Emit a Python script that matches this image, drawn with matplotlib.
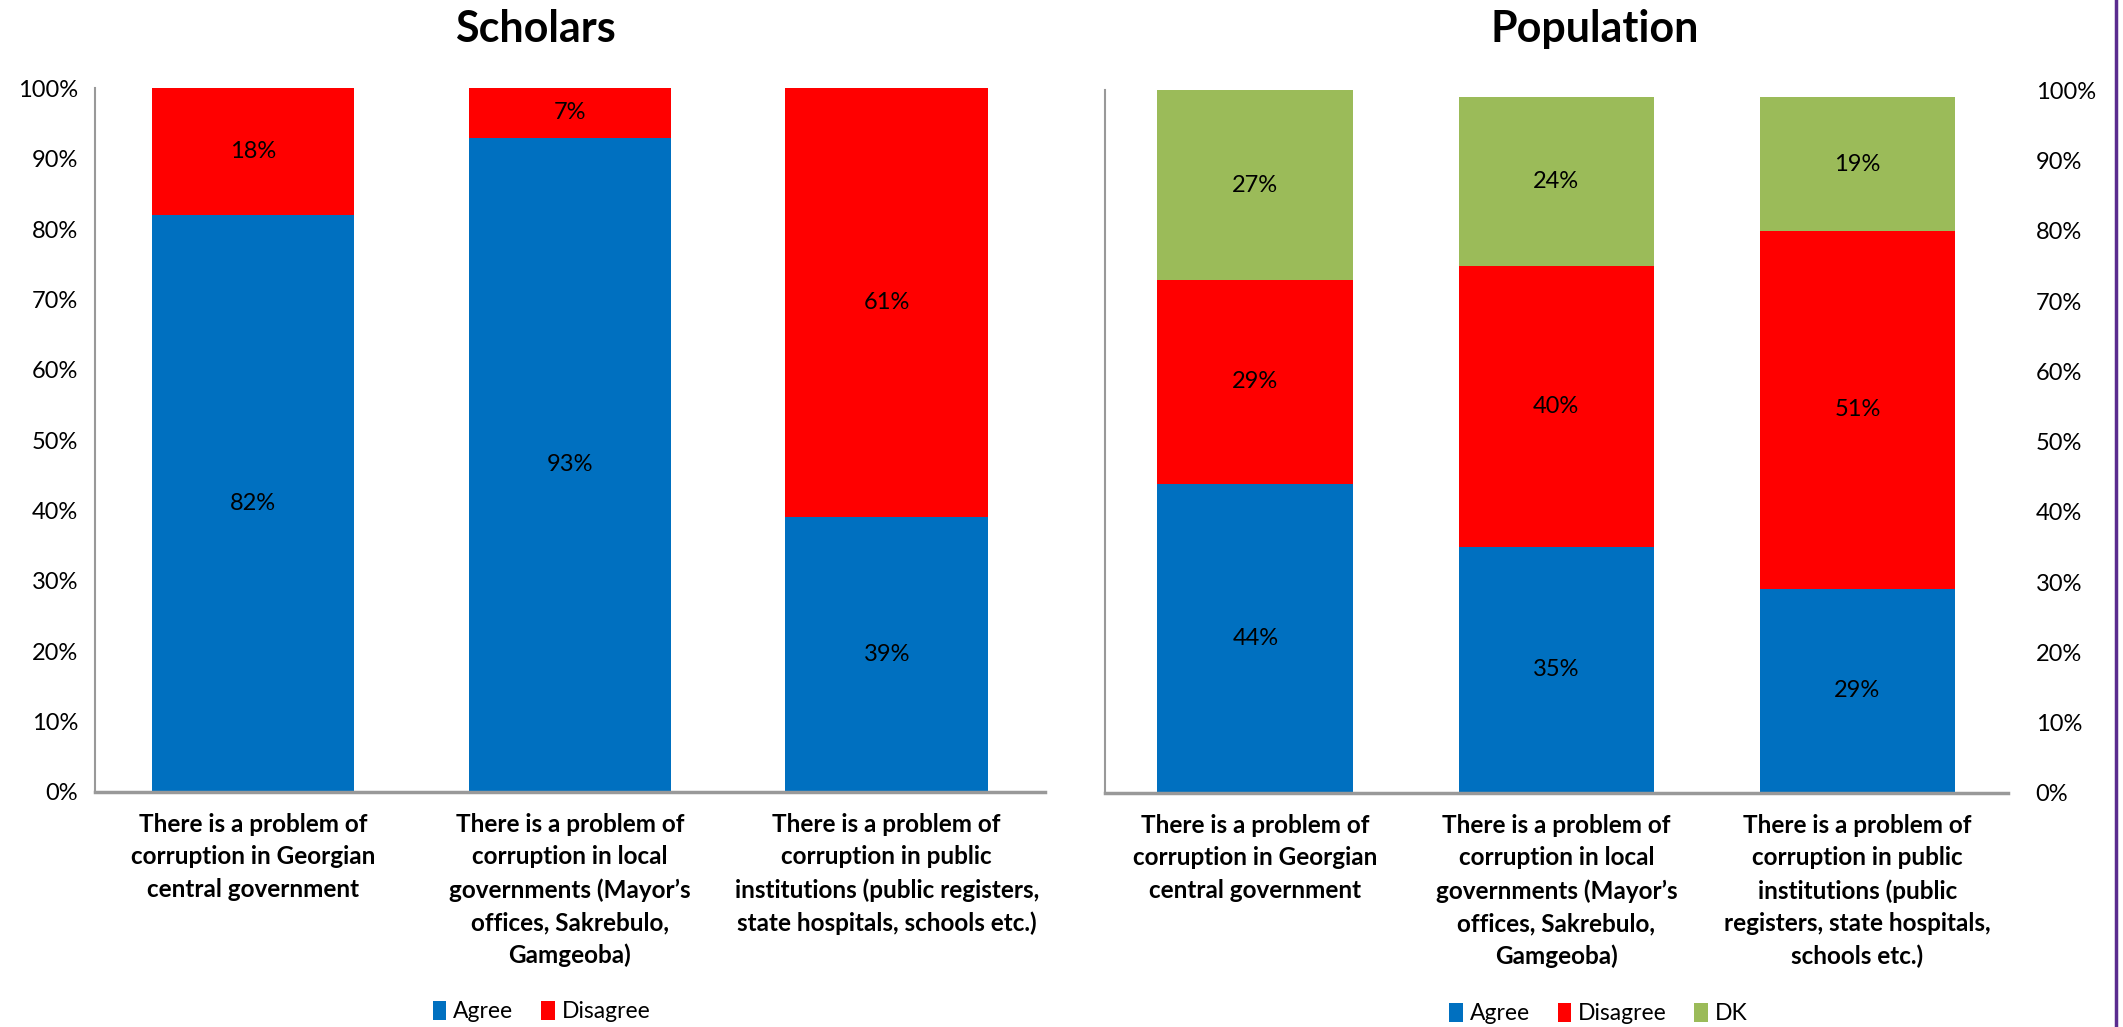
#!/usr/bin/env python

'''
Corruption perception: scholars vs population,
two stacked 100% bar charts side by side
'''

import matplotlib
matplotlib.use('Agg')
import matplotlib.pyplot as plt
import numpy as np
from matplotlib.lines import Line2D

plt.rcParams['font.family'] = ['Lato', 'DejaVu Sans']

BLUE = '#0070C0'
RED = '#FF0000'
GREEN = '#9BBB59'

scholar_cats = [
    'There is a problem of\ncorruption in Georgian\ncentral government',
    'There is a problem of\ncorruption in local\ngovernments (Mayor\u2019s\noffices, Sakrebulo,\nGamgeoba)',
    'There is a problem of\ncorruption in public\ninstitutions (public registers,\nstate hospitals, schools etc.)',
]
pop_cats = [
    'There is a problem of\ncorruption in Georgian\ncentral government',
    'There is a problem of\ncorruption in local\ngovernments (Mayor\u2019s\noffices, Sakrebulo,\nGamgeoba)',
    'There is a problem of\ncorruption in public\ninstitutions (public\nregisters, state hospitals,\nschools etc.)',
]

scholar_agree = [82, 93, 39]
scholar_disagree = [18, 7, 61]

pop_agree = [44, 35, 29]
pop_disagree = [29, 40, 51]
pop_dk = [27, 24, 19]

yticks = np.arange(0, 101, 10)


def stacked(ax, cats, series, colors, names, width):
    x = np.arange(len(cats))
    bottom = np.zeros(len(cats))
    for vals, col, name in zip(series, colors, names):
        vals = np.array(vals, dtype=float)
        bars = ax.bar(x, vals, width, bottom=bottom, color=col, label=name)
        for b, v, bt in zip(bars, vals, bottom):
            ax.text(b.get_x() + b.get_width() / 2, bt + v / 2, '%d%%' % v,
                    ha='center', va='center', fontsize=17, color='black')
        bottom += vals
    ax.set_xlim(-0.5, len(cats) - 0.5)
    ax.set_ylim(0, 100)
    ax.set_yticks(yticks)
    ax.set_yticklabels(['%d%%' % t for t in yticks], fontsize=17)
    ax.set_xticks(x)
    ax.set_xticklabels(cats, fontsize=17.5, fontweight='bold',
                       linespacing=1.5, va='top')
    ax.tick_params(axis='x', length=0, pad=15)
    ax.tick_params(axis='y', length=0, pad=12)
    for s in ['top', 'right']:
        ax.spines[s].set_visible(False)
    ax.spines['left'].set_color('#999999')
    ax.spines['bottom'].set_color('#999999')
    ax.spines['left'].set_linewidth(1.5)
    ax.spines['bottom'].set_linewidth(2.5)


fig = plt.figure(figsize=(21.23, 10.27), dpi=100)

ax1 = fig.add_axes([0.0446, 0.229, 0.4477, 0.685])
stacked(ax1, scholar_cats, [scholar_agree, scholar_disagree],
        [BLUE, RED], ['Agree', 'Disagree'], 0.64)
fig.text(0.252, 0.972, 'Scholars', fontsize=31, fontweight='bold',
         ha='center', va='center')
fig.legend(*ax1.get_legend_handles_labels(), loc='center',
           bbox_to_anchor=(0.255, 0.015), ncol=2, frameon=False, fontsize=16.5,
           handlelength=0.6, handleheight=0.9, handletextpad=0.3,
           columnspacing=1.2)

ax2 = fig.add_axes([0.5204, 0.228, 0.4254, 0.684])
stacked(ax2, pop_cats, [pop_agree, pop_disagree, pop_dk],
        [BLUE, RED, GREEN], ['Agree', 'Disagree', 'DK'], 0.65)
ax2.yaxis.tick_right()
ax2.tick_params(axis='y', length=0, pad=20)
fig.text(0.751, 0.972, 'Population', fontsize=31, fontweight='bold',
         ha='center', va='center')
fig.legend(*ax2.get_legend_handles_labels(), loc='center',
           bbox_to_anchor=(0.753, 0.013), ncol=3, frameon=False, fontsize=16.5,
           handlelength=0.6, handleheight=0.9, handletextpad=0.3,
           columnspacing=1.2)

# purple border line on the right edge
fig.add_artist(Line2D([0.9967, 0.9967], [0, 1], color='#5B2C8F', lw=2.5,
                      transform=fig.transFigure))

fig.savefig('out.png', dpi=100)
